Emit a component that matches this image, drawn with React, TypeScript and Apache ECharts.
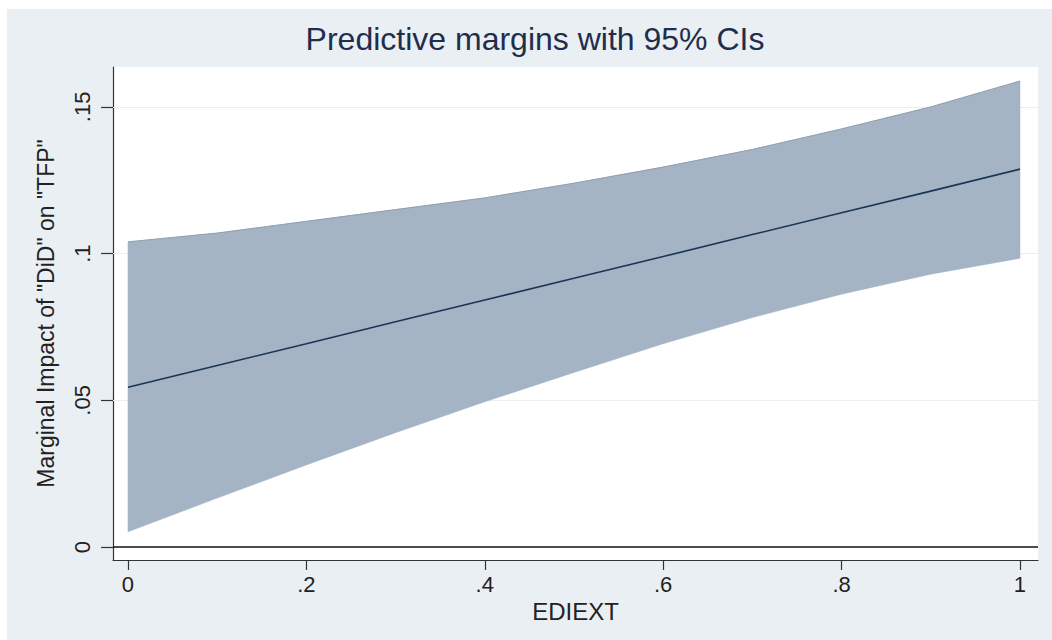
import React, { useEffect, useRef } from "react";
import * as echarts from "echarts";

// EDIEXT values at which margins were evaluated
const xValues = [0, 0.1, 0.2, 0.3, 0.4, 0.5, 0.6, 0.7, 0.8, 0.9, 1];
// Predictive margin (point estimate)
const margin = [0.0545, 0.0619, 0.0693, 0.0768, 0.0842, 0.0916, 0.099, 0.1065, 0.1139, 0.1213, 0.1288];
// 95% CI bounds
const ciLower = [0.0052, 0.0167, 0.028, 0.039, 0.0495, 0.0595, 0.0693, 0.0782, 0.0862, 0.093, 0.0984];
const ciUpper = [0.104, 0.107, 0.111, 0.115, 0.119, 0.124, 0.1295, 0.1355, 0.1425, 0.15, 0.1588];

const xTickValues = [0, 0.2, 0.4, 0.6, 0.8, 1];
const xTickLabels = ["0", ".2", ".4", ".6", ".8", "1"];
const yTickValues = [0, 0.05, 0.1, 0.15];
const yTickLabels = ["0", ".05", ".1", ".15"];
const yGridValues = [0.05, 0.1, 0.15];
const yRefLine = 0;

const titleText = "Predictive margins with 95% CIs";
const xTitle = "EDIEXT";
const yTitle = 'Marginal Impact of "DiD" on "TFP"';

const FONT = "'Liberation Sans', Arial, sans-serif";

function labelFor(values: number[], labels: string[]) {
  return (v: number) => {
    let best = 0;
    for (let i = 1; i < values.length; i++) {
      if (Math.abs(values[i] - v) < Math.abs(values[best] - v)) best = i;
    }
    return labels[best];
  };
}

export default function App() {
  const ref = useRef<HTMLDivElement>(null);

  useEffect(() => {
    if (!ref.current) return;
    const chart = echarts.init(ref.current, undefined, { renderer: "svg" });

    const bandData = xValues.map((x, i) => [x, ciLower[i], ciUpper[i]]);
    const midData = xValues.map((x, i) => [x, margin[i]]);

    chart.setOption({
      animation: false,
      title: {
        text: titleText,
        left: 535,
        top: 23,
        textAlign: "center",
        padding: 0,
        textStyle: {
          fontFamily: FONT,
          fontSize: 32,
          fontWeight: "normal",
          color: "#1f2e4c",
        },
      },
      grid: {
        left: 113,
        top: 67,
        right: 14,
        bottom: 80,
        show: true,
        backgroundColor: "#ffffff",
        borderWidth: 0,
      },
      xAxis: {
        type: "value",
        min: -0.0168,
        max: 1.0202,
        name: xTitle,
        nameLocation: "middle",
        nameGap: 35,
        nameTextStyle: { fontFamily: FONT, fontSize: 24, color: "#222" },
        axisLine: { show: true, onZero: false, lineStyle: { color: "#333", width: 1.2 } },
        axisTick: { show: true, length: 10, customValues: xTickValues, lineStyle: { color: "#333", width: 1.2 } },
        axisLabel: {
          customValues: xTickValues,
          formatter: labelFor(xTickValues, xTickLabels),
          fontFamily: FONT,
          fontSize: 22,
          color: "#222",
          margin: 13,
        },
        splitLine: { show: false },
      },
      yAxis: {
        type: "value",
        min: -0.0044,
        max: 0.1636,
        name: yTitle,
        nameLocation: "middle",
        nameRotate: 90,
        nameGap: 56,
        nameTextStyle: { fontFamily: FONT, fontSize: 23, color: "#222" },
        axisLine: { show: true, onZero: false, lineStyle: { color: "#333", width: 1.2 } },
        axisTick: { show: true, length: 12, customValues: yTickValues, lineStyle: { color: "#333", width: 1.2 } },
        axisLabel: {
          customValues: yTickValues,
          formatter: labelFor(yTickValues, yTickLabels),
          rotate: 90,
          fontFamily: FONT,
          fontSize: 22,
          color: "#222",
          margin: 20,
        },
        splitLine: { show: false },
      },
      series: [
        {
          name: "grid",
          type: "line",
          data: [],
          symbol: "none",
          z: 1,
          silent: true,
          markLine: {
            silent: true,
            symbol: "none",
            z: 1,
            label: { show: false },
            lineStyle: { color: "#ebedef", width: 1.2, type: "solid" },
            data: yGridValues.map((v) => ({ yAxis: v })),
          },
        },
        {
          name: "band",
          type: "custom",
          data: bandData,
          z: 3,
          silent: true,
          renderItem: (params: any, api: any) => {
            if (params.dataIndex !== 0) return null;
            const top = xValues.map((x, i) => api.coord([x, ciUpper[i]]));
            const bottom = xValues.map((x, i) => api.coord([x, ciLower[i]])).reverse();
            return {
              type: "group",
              children: [
                {
                  type: "polygon",
                  shape: { points: top.concat(bottom) },
                  style: { fill: "#a4b4c5", stroke: "#a4b4c5", lineWidth: 0.5 },
                },
                {
                  type: "polyline",
                  shape: { points: top },
                  style: { fill: "none", stroke: "#8f9fb1", lineWidth: 1 },
                },
              ],
            };
          },
        },
        {
          name: "margin",
          type: "line",
          data: midData,
          symbol: "none",
          lineStyle: { color: "#1b3556", width: 1.6 },
          z: 4,
          silent: true,
          markLine: {
            silent: true,
            symbol: "none",
            z: 5,
            label: { show: false },
            lineStyle: { color: "#111", width: 1.6, type: "solid" },
            data: [{ yAxis: yRefLine }],
          },
        },
      ],
    });

    return () => chart.dispose();
  }, []);

  return (
    <div style={{ position: "absolute", left: 0, top: 0, width: 1052, height: 640, background: "#ffffff" }}>
      <div style={{ position: "absolute", left: 7, top: 9, width: 1045, height: 631, background: "#e9eff2" }} />
      <div ref={ref} style={{ position: "absolute", left: 0, top: 0, width: 1052, height: 640 }} />
    </div>
  );
}
